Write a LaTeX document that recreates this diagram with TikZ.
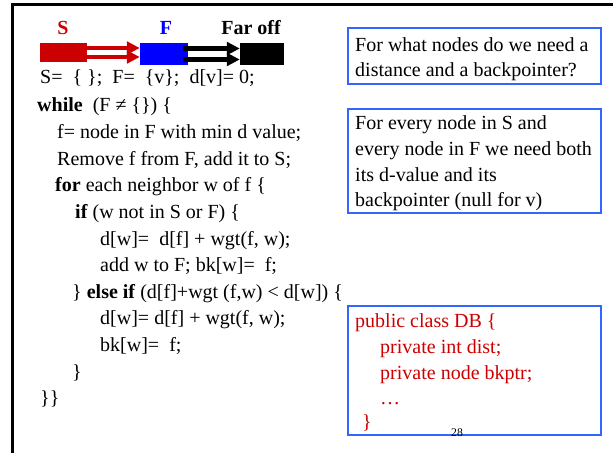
\documentclass[tikz,border=0pt]{standalone}
\usepackage{fontspec}
\setmainfont{Liberation Serif}
\usetikzlibrary{arrows.meta,positioning}
\definecolor{dkred}{RGB}{204,0,0}
\definecolor{qblue}{RGB}{51,102,255}
\begin{document}
\begin{tikzpicture}[x=0.03cm,y=-0.03cm,txt/.style={anchor=base west,inner sep=0pt,font=\fontsize{17.07}{20}\selectfont},lab/.style={anchor=base,inner sep=0pt,font=\fontsize{17.07}{20}\selectfont\bfseries},bar/.style={inner sep=0pt,minimum height=.66cm},qbox/.style={draw=qblue,line width=.06cm},ra/.style={-{Triangle[length=.39cm,width=.38cm]},draw=dkred,line width=.135cm},ka/.style={-{Triangle[length=.39cm,width=.38cm]},draw=black,line width=.165cm}]
\useasboundingbox (0,0) rectangle (613,453);
\draw[line width=.09cm] (613,5) -| (12,453);
\node[bar,fill=dkred,minimum width=1.41cm,minimum height=.57cm] (sbar) at (63.5,52.5) {};
\node[bar,fill=blue,minimum width=1.44cm] (fbar) at (164,54) {};
\node[bar,fill=black,minimum width=1.32cm] (kbar) at (262,54) {};
\node[lab,text=dkred] (slab) at (63,35) {S};
\node[lab,text=blue] (flab) at (166,35) {F};
\node[lab] (klab) at (251,35) {Far off};
\draw[ra] ([yshift=.135cm]sbar.east) -- ([yshift=.135cm]sbar.east -| fbar.west);
\draw[ra] ([yshift=-.135cm]sbar.east) -- ([yshift=-.135cm]sbar.east -| fbar.west);
\draw[ka] ([xshift=-.15cm,yshift=.165cm]fbar.east) -- ([yshift=.165cm]fbar.east -| kbar.west);
\draw[ka] ([xshift=-.15cm,yshift=-.165cm]fbar.east) -- ([yshift=-.165cm]fbar.east -| kbar.west);
\node[txt] (l1) at (40,84) {S=\ \ \{ \};\ \ F=\ \ \{v\};\ \ d[v]= 0;};
\node[txt] (l2) at (37,112) {\textbf{while}\ \ (F ≠ \{\}) \{};
\node[txt] (l3) at (57,138.6) {f= node in F with min d value;};
\node[txt] (l4) at (57,165.2) {Remove f from F, add it to S;};
\node[txt] (l5) at (55,191.8) {\textbf{for} each neighbor w of f \{};
\node[txt] (l6) at (75,218.4) {\textbf{if} (w not in S or F) \{};
\node[txt] (l7) at (100,245) {d[w]=\ \ d[f] + wgt(f, w);};
\node[txt] (l8) at (100,271.6) {add w to F; bk[w]=\ \ f;};
\node[txt] (l9) at (72,298.2) {\} \textbf{else if} (d[f]+wgt (f,w) < d[w]) \{};
\node[txt] (l10) at (100,324.8) {d[w]= d[f] + wgt(f, w);};
\node[txt] (l11) at (100,351.4) {bk[w]=\ \ f;};
\node[txt] (l12) at (72,378) {\}};
\node[txt] (l13) at (40,404.6) {\}\}};
\draw[qbox] (348,28) rectangle (601,84);
\node[txt] (q1) at (355,52) {For what nodes do we need a};
\node[txt] (q2) at (355,77) {distance and a backpointer?};
\draw[qbox] (348,109) rectangle (601,213);
\node[txt] (a1) at (355,130) {For every node in S and};
\node[txt] (a2) at (355,156) {every node in F we need both};
\node[txt] (a3) at (355,182) {its d-value and its};
\node[txt] (a4) at (355,207) {backpointer (null for v)};
\draw[qbox] (348,306) rectangle (601,435);
\node[txt,text=dkred] (c1) at (355,327) {public class DB \{};
\node[txt,text=dkred] (c2) at (380,353) {private int dist;};
\node[txt,text=dkred] (c3) at (380,379) {private node bkptr;};
\node[txt,text=dkred] (c4) at (380,404) {…};
\node[txt,text=dkred] (c5) at (362,428) {\}};
\node[anchor=base,inner sep=0pt,font=\fontsize{10}{12}\selectfont] (pg) at (457,436) {28};
\end{tikzpicture}
\end{document}
